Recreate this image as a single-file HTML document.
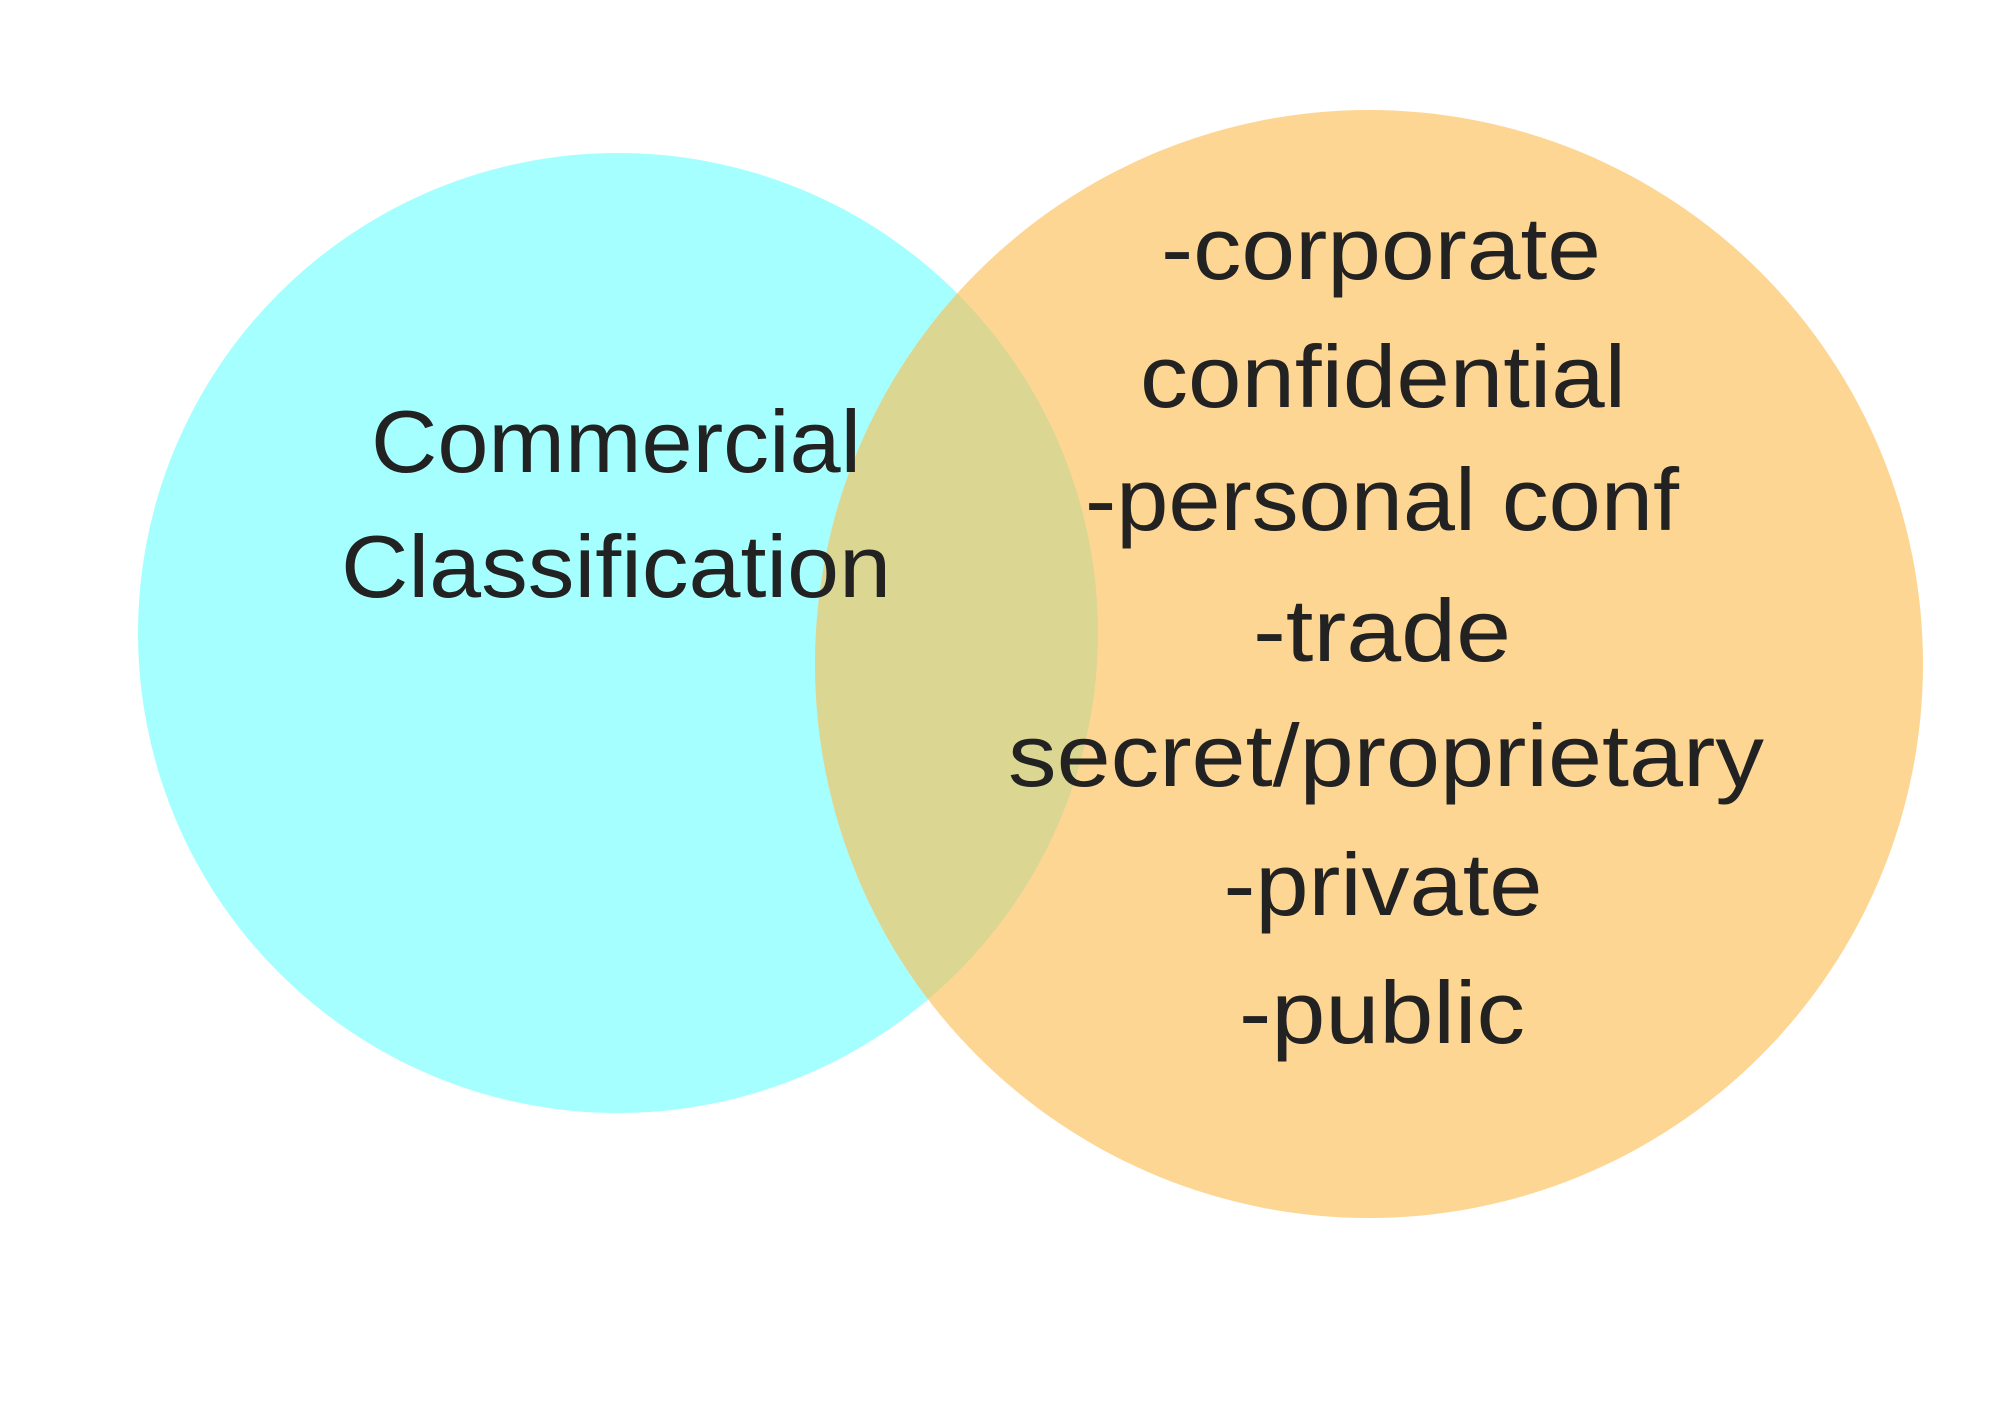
<!DOCTYPE html>
<html><head><style>html,body{margin:0;padding:0;background:#fff}svg{display:block}</style></head>
<body>
<svg width="2000" height="1414" viewBox="0 0 2000 1414" xmlns="http://www.w3.org/2000/svg">
<defs><clipPath id="cl"><circle cx="618" cy="633" r="480"/></clipPath></defs>
<circle cx="618" cy="633" r="480" fill="#a6ffff"/>
<circle cx="1369" cy="664" r="554" fill="#fed694"/>
<circle cx="1369" cy="664" r="554" fill="#dcd693" clip-path="url(#cl)"/>
<g font-family="Liberation Sans, sans-serif" font-size="88" fill="#222" text-anchor="middle">
<text x="616" y="472" textLength="490" lengthAdjust="spacingAndGlyphs">Commercial</text>
<text x="616" y="597" textLength="550" lengthAdjust="spacingAndGlyphs">Classification</text>
<text x="1381" y="279" textLength="440" lengthAdjust="spacingAndGlyphs">-corporate</text>
<text x="1383" y="407" textLength="486" lengthAdjust="spacingAndGlyphs">confidential</text>
<text x="1382" y="530" textLength="594" lengthAdjust="spacingAndGlyphs">-personal conf</text>
<text x="1382" y="661" textLength="258" lengthAdjust="spacingAndGlyphs">-trade</text>
<text x="1386" y="786" textLength="756" lengthAdjust="spacingAndGlyphs">secret/proprietary</text>
<text x="1383" y="915" textLength="319" lengthAdjust="spacingAndGlyphs">-private</text>
<text x="1382" y="1043" textLength="286" lengthAdjust="spacingAndGlyphs">-public</text>
</g>
</svg>
</body></html>
